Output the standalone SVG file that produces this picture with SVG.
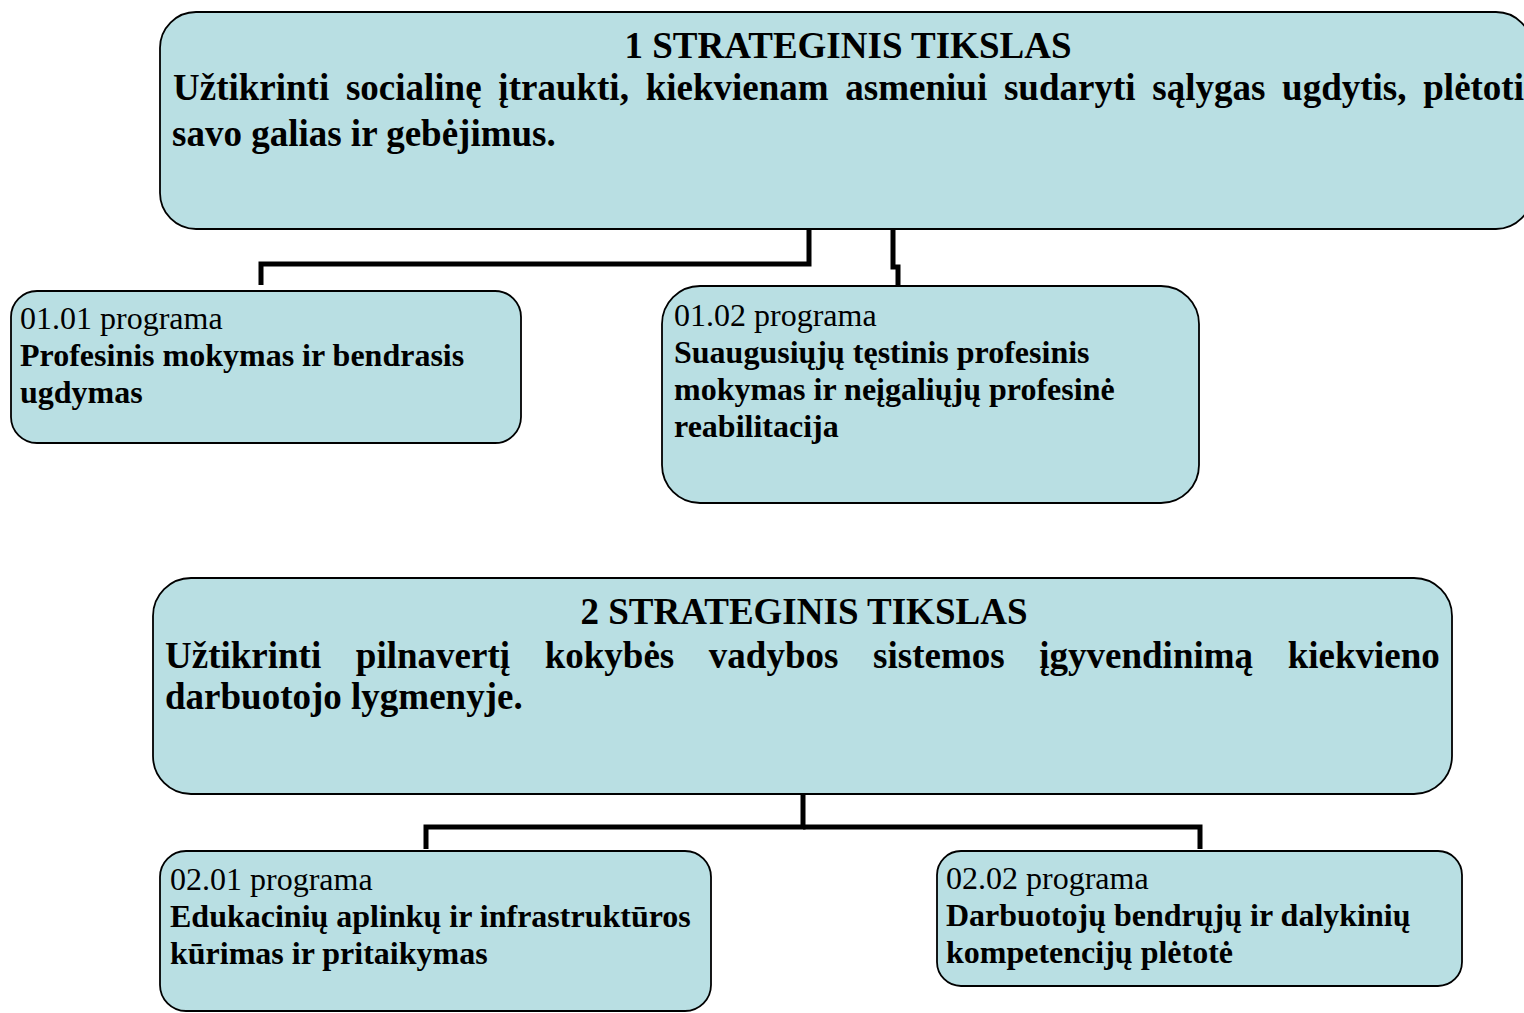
<svg xmlns="http://www.w3.org/2000/svg" width="1524" height="1013" viewBox="0 0 1524 1013">
<style>
.box{fill:#B9DFE3;stroke:#000;stroke-width:1.8}
.t{font-family:"Liberation Serif","Times New Roman",serif;fill:#000}
.big{font-size:37px;font-weight:bold}
.lbl{font-size:32px}
.b{font-weight:bold}
.con{fill:none;stroke:#000;stroke-width:5;stroke-linejoin:miter;stroke-linecap:butt}
</style>
<rect width="1524" height="1013" fill="#fff"/>
<g id="connectors">
<path class="con" d="M809,229 V264 H261 V285"/>
<path class="con" d="M893,229 V267 H898 V285"/>
<path class="con" d="M803,794 V827 H426 V849"/>
<path class="con" d="M803,827 H1200 V849"/>
</g>
<g id="goal1">
<rect class="box" x="160" y="12" width="1372" height="217" rx="36" ry="36"/>
<text class="t big" x="848" y="58" text-anchor="middle">1 STRATEGINIS TIKSLAS</text>
<text class="t big" x="173" y="100" word-spacing="7.5">Užtikrinti socialinę įtraukti, kiekvienam asmeniui sudaryti sąlygas ugdytis, plėtoti</text>
<text class="t big" x="172" y="146">savo galias ir gebėjimus.</text>
</g>
<g id="prog0101">
<rect class="box" x="11" y="291" width="510" height="152" rx="26" ry="26"/>
<text class="t lbl" x="20" y="329">01.01 programa</text>
<text class="t lbl b" x="20" y="366">Profesinis mokymas ir bendrasis</text>
<text class="t lbl b" x="20" y="403">ugdymas</text>
</g>
<g id="prog0102">
<rect class="box" x="662" y="286" width="537" height="217" rx="38" ry="38"/>
<text class="t lbl" x="674" y="326">01.02 programa</text>
<text class="t lbl b" x="674" y="363">Suaugusiųjų tęstinis profesinis</text>
<text class="t lbl b" x="674" y="400">mokymas ir neįgaliųjų profesinė</text>
<text class="t lbl b" x="674" y="437">reabilitacija</text>
</g>
<g id="goal2">
<rect class="box" x="153" y="578" width="1299" height="216" rx="38" ry="38"/>
<text class="t big" x="804" y="624" text-anchor="middle">2 STRATEGINIS TIKSLAS</text>
<text class="t big" x="165" y="668" word-spacing="25.4">Užtikrinti pilnavertį kokybės vadybos sistemos įgyvendinimą kiekvieno</text>
<text class="t big" x="165" y="709">darbuotojo lygmenyje.</text>
</g>
<g id="prog0201">
<rect class="box" x="160" y="851" width="551" height="160" rx="26" ry="26"/>
<text class="t lbl" x="170" y="890">02.01 programa</text>
<text class="t lbl b" x="170" y="927">Edukacinių aplinkų ir infrastruktūros</text>
<text class="t lbl b" x="170" y="964">kūrimas ir pritaikymas</text>
</g>
<g id="prog0202">
<rect class="box" x="937" y="851" width="525" height="135" rx="24" ry="24"/>
<text class="t lbl" x="946" y="889">02.02 programa</text>
<text class="t lbl b" x="946" y="926">Darbuotojų bendrųjų ir dalykinių</text>
<text class="t lbl b" x="946" y="963">kompetencijų plėtotė</text>
</g>
</svg>
